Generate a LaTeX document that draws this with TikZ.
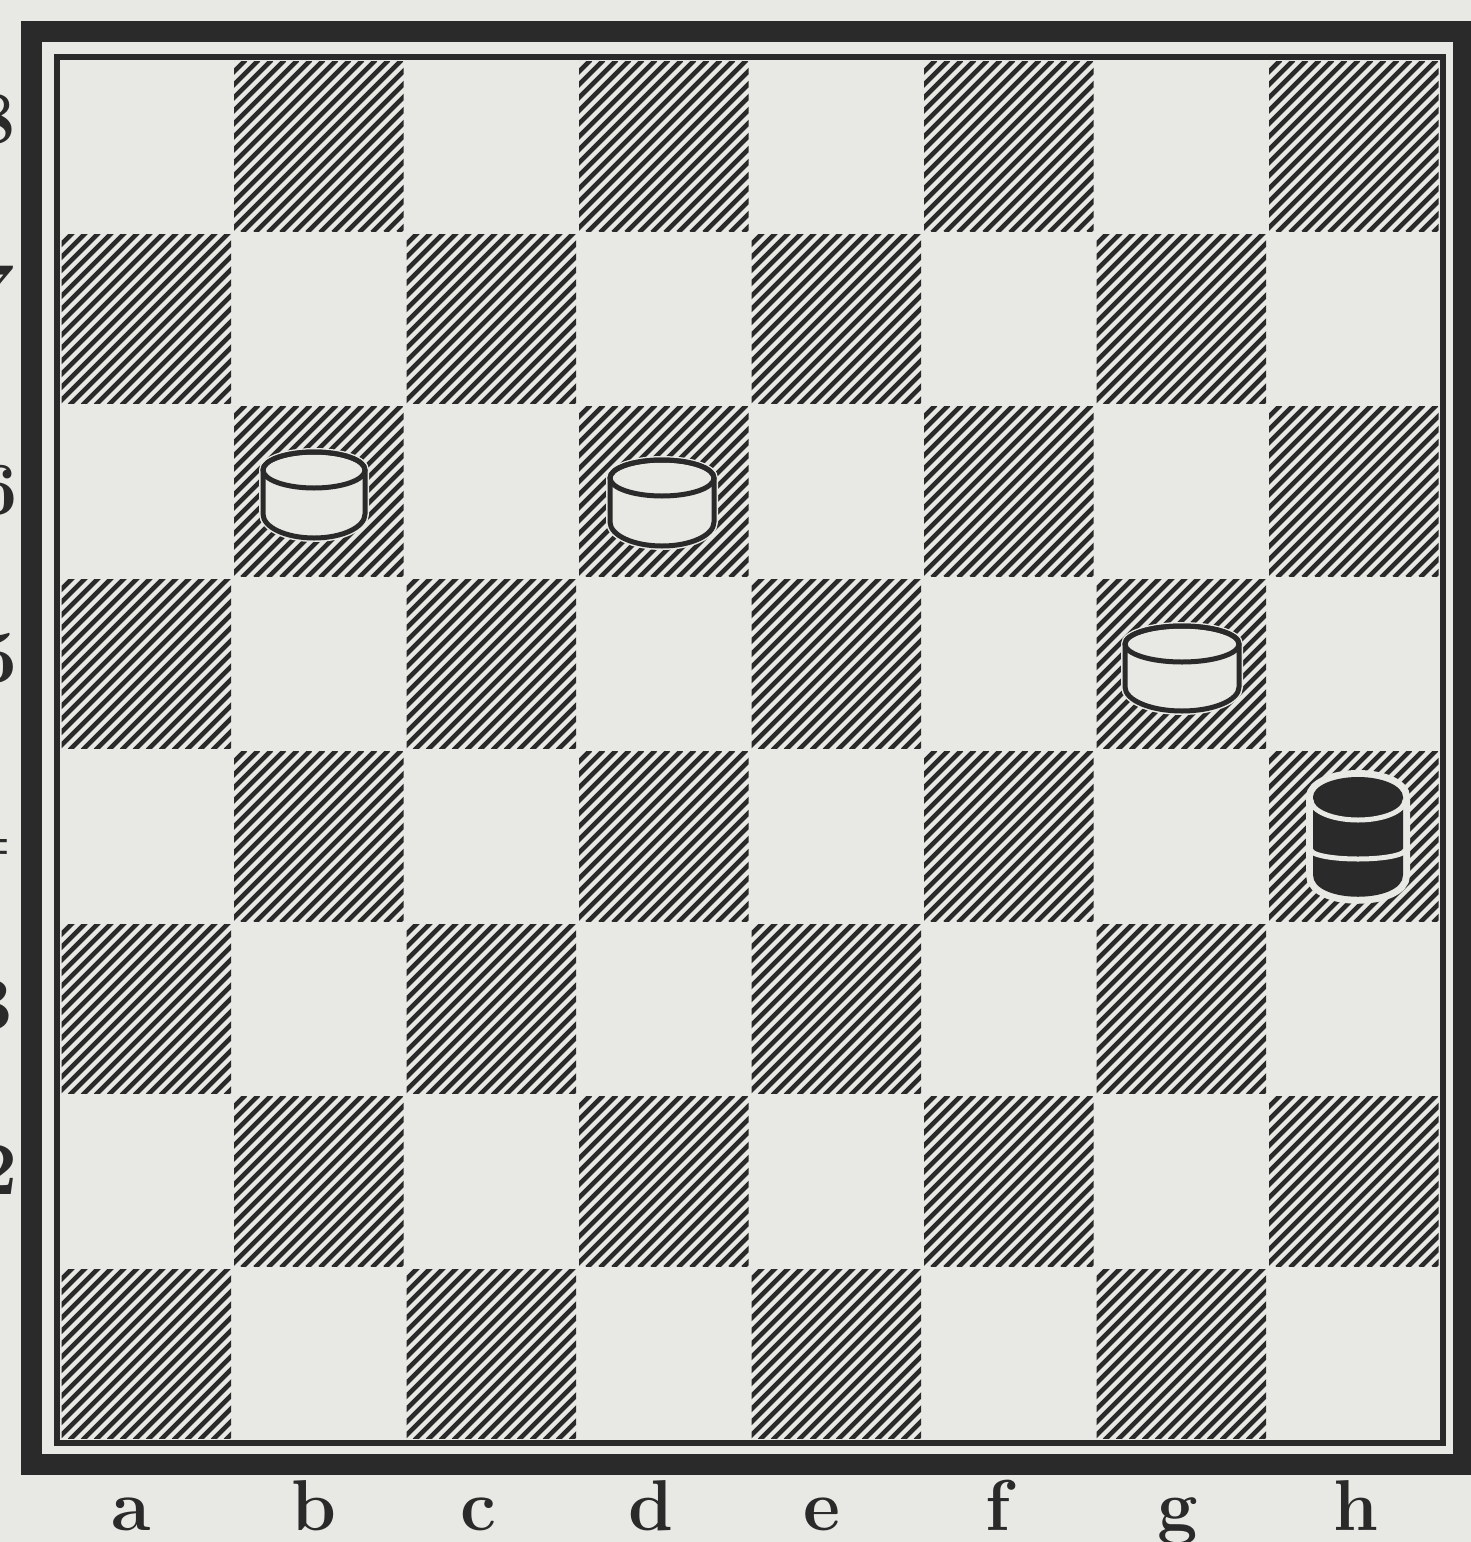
\documentclass[tikz,border=0pt]{standalone}
\usepackage{fontspec}
\definecolor{paper}{HTML}{E8E9E4}
\definecolor{ink}{HTML}{2A2A2A}
\newcommand\wman[4]{% cx, top-ellipse y, bottom y, radius
  \draw[paper,line width=8,fill=paper] (#1-#4,#2) -- (#1-#4,#3-24) arc[start angle=180,end angle=0,x radius=#4,y radius=24] -- (#1+#4,#2) arc[start angle=0,end angle=-180,x radius=#4,y radius=18] -- cycle;
  \draw[ink,line width=5,fill=paper,line join=round] (#1-#4,#2) -- (#1-#4,#3-24) arc[start angle=180,end angle=0,x radius=#4,y radius=24] -- (#1+#4,#2) arc[start angle=0,end angle=-180,x radius=#4,y radius=18] -- cycle;
  \draw[ink,line width=5] (#1,#2) ellipse[x radius=#4,y radius=18];
}
\begin{document}
\begin{tikzpicture}[x=1pt,y=-1pt,
  hatch/.style={ink,line width=4.6},
  filelabel/.style={inner sep=0pt,anchor=base,font=\fontsize{72}{72}\selectfont\bfseries,text=ink},
  ranklabel/.style={inner sep=0pt,anchor=east,font=\fontsize{75}{75}\selectfont\bfseries,text=ink}]
\useasboundingbox (0,0) rectangle (1471,1542);
\fill[paper] (0,0) rectangle (1471,1542);
\clip (0,0) rectangle (1471,1542);
% hatched dark squares
\foreach \i in {0,...,7}{
  \foreach \j in {0,...,7}{
    \pgfmathtruncatemacro\oddsq{mod(\i+\j,2)}
    \ifnum\oddsq=1
      \begin{scope}
        \clip (60+\i*172.5+1.5, 60+\j*172.5+1.5) rectangle ++(169.5,169.5);
        \foreach \k in {0,...,28}
          \draw[hatch] ({60+\i*172.5-172.5+\k*13}, {60+(\j+1)*172.5}) -- ++(172.5,-172.5);
      \end{scope}
    \fi
  }
}
% frames
\draw[ink,line width=6] (57,57) rectangle (1443,1443);
\draw[ink,line width=21] (31,31) rectangle (1463,1464);
% white men
\wman{314}{470}{538}{51}
\wman{662}{478}{546}{52}
\wman{1182}{644}{711}{57}
% black king (two stacked men)
\draw[paper,line width=14,fill=paper] (1313,797) -- (1313,875) .. controls (1313,904) and (1403,904) .. (1403,875) -- (1403,797) arc[start angle=0,end angle=-180,x radius=45,y radius=20] -- cycle;
\fill[ink] (1313,797) -- (1313,875) .. controls (1313,904) and (1403,904) .. (1403,875) -- (1403,797) arc[start angle=0,end angle=-180,x radius=45,y radius=20] -- cycle;
\draw[paper,line width=5] (1311,800) arc[start angle=180,end angle=0,x radius=47,y radius=20];
\draw[paper,line width=5] (1311,850) arc[start angle=180,end angle=0,x radius=47,y radius=9];
% file letters
\node[filelabel] (fa) at (131,1530) {a};
\node[filelabel] (fb) at (314,1530) {b};
\node[filelabel] (fc) at (478,1530) {c};
\node[filelabel] (fd) at (651,1530) {d};
\node[filelabel] (fe) at (822,1530) {e};
\node[filelabel] (ff) at (998,1530) {f};
\node[filelabel] (fg) at (1178,1530) {g};
\node[filelabel] (fh) at (1356,1530) {h};
% rank digits (cut off by the left edge)
\node[ranklabel] (r8) at (16,119) {8};
\node[ranklabel] (r7) at (15,290) {7};
\node[ranklabel] (r6) at (18,490) {6};
\node[ranklabel] (r5) at (18,658) {5};
\node[ranklabel] (r4) at (10,830) {4};
\node[ranklabel] (r3) at (13,1005) {3};
\node[ranklabel] (r2) at (18,1170) {2};
\node[ranklabel] (r1) at (6,1340) {1};
\end{tikzpicture}
\end{document}
